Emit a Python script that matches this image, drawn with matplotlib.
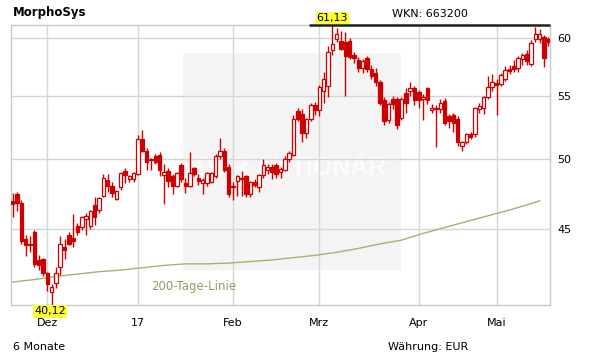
import matplotlib
matplotlib.use('AGG')
import matplotlib.pyplot as plt
from matplotlib.ticker import FixedLocator, NullLocator
import numpy as np

# trading days, Nov 2016 - May 2017 (index 0 = first candle)
opens = [46.9, 47.4, 46.8, 44.3, 44.0, 44.8, 42.9, 43.0, 42.1, 40.9,
         41.5, 42.5, 43.8, 44.6, 44.4, 45.2, 45.1, 45.7, 45.2, 46.6,
         46.3, 47.3, 48.4, 48.0, 47.1, 47.9, 49.1, 48.5, 48.5, 48.9,
         51.5, 50.6, 50.0, 50.2, 50.3, 48.8, 49.1, 48.7, 48.0, 49.5,
         48.2, 48.0, 49.3, 48.6, 48.2, 48.2, 48.3, 48.7, 50.2, 50.6,
         49.4, 48.0, 48.4, 48.6, 48.7, 47.4, 48.3, 47.9, 48.8, 49.2,
         49.4, 49.5, 49.0, 49.2, 50.0, 50.3, 53.7, 53.5, 52.0, 53.1,
         54.2, 53.8, 55.4, 55.8, 58.9, 59.9, 59.7, 59.6, 59.7, 58.4,
         58.0, 57.3, 58.2, 57.2, 56.9, 56.1, 54.6, 53.0, 54.7, 54.7,
         53.2, 55.2, 55.4, 55.6, 55.3, 54.7, 55.6, 53.8, 54.0, 53.9,
         54.5, 53.3, 53.4, 53.1, 51.0, 51.3, 51.9, 51.9, 53.9, 54.0,
         54.9, 55.7, 56.0, 56.0, 56.4, 57.2, 57.5, 57.3, 58.1, 58.5,
         57.7, 59.9, 59.9, 60.0, 59.9]
highs = [47.5, 47.6, 47.0, 44.6, 44.5, 44.9, 43.3, 43.1, 42.2, 41.4,
         42.5, 44.5, 44.3, 44.8, 46.0, 45.4, 45.9, 46.1, 46.3, 47.2,
         47.2, 48.9, 48.9, 48.3, 47.7, 49.0, 49.3, 48.8, 49.0, 51.8,
         52.2, 50.8, 50.1, 50.4, 50.5, 49.6, 49.3, 48.9, 49.0, 49.7,
         48.6, 50.5, 49.4, 48.9, 48.6, 49.0, 49.0, 50.4, 51.6, 50.8,
         49.6, 48.3, 48.8, 49.1, 48.8, 48.4, 48.5, 48.9, 50.0, 49.6,
         49.6, 49.7, 49.4, 50.2, 50.6, 53.4, 54.0, 53.9, 53.2, 54.4,
         54.5, 55.9, 57.0, 59.3, 61.13, 60.9, 60.6, 60.5, 60.0, 58.7,
         58.3, 58.1, 58.4, 57.6, 57.3, 56.3, 54.9, 54.5, 55.0, 54.9,
         54.9, 55.6, 56.1, 55.8, 55.5, 55.1, 55.7, 54.3, 54.2, 54.7,
         54.8, 53.5, 53.6, 53.3, 51.4, 52.0, 52.1, 54.1, 54.4, 55.0,
         56.6, 56.8, 56.4, 56.9, 57.5, 57.6, 58.0, 58.4, 58.6, 58.9,
         59.8, 61.0, 60.8, 60.2, 60.1]
lows = [45.8, 46.2, 44.0, 43.2, 43.5, 42.5, 42.3, 41.9, 41.0, 40.12,
        41.2, 42.0, 43.0, 43.9, 43.8, 44.6, 44.9, 44.6, 45.0, 45.3,
        46.1, 47.2, 47.6, 47.2, 47.0, 47.7, 48.2, 48.3, 48.3, 48.8,
        50.5, 49.2, 49.2, 49.6, 48.7, 46.7, 47.9, 47.4, 47.9, 48.3,
        47.5, 47.9, 48.7, 48.1, 47.4, 48.0, 48.2, 48.6, 50.0, 49.0,
        47.2, 47.0, 47.3, 47.3, 47.2, 47.2, 47.9, 47.6, 48.6, 48.9,
        48.5, 48.6, 48.6, 49.1, 49.8, 50.2, 52.9, 51.3, 51.6, 52.9,
        53.4, 53.3, 54.4, 54.9, 58.5, 59.6, 58.9, 55.0, 58.1, 57.8,
        57.0, 56.9, 57.0, 56.4, 55.8, 54.2, 52.6, 52.8, 53.9, 52.3,
        53.0, 53.6, 55.0, 54.2, 54.0, 53.0, 54.3, 53.6, 50.9, 53.6,
        52.6, 52.4, 52.1, 51.0, 50.6, 51.1, 51.5, 51.7, 53.6, 53.5,
        54.7, 55.4, 53.4, 55.8, 56.2, 56.8, 57.0, 57.0, 57.6, 57.6,
        57.5, 59.6, 59.5, 57.4, 59.3]
closes = [46.7, 46.8, 44.2, 43.9, 43.9, 42.7, 42.6, 42.1, 41.4, 41.2,
          42.1, 44.0, 43.6, 44.0, 44.2, 44.8, 45.8, 45.9, 46.2, 45.8,
          47.1, 48.6, 48.0, 47.5, 47.6, 48.9, 48.8, 48.7, 48.9, 51.5,
          50.6, 49.8, 49.9, 49.8, 49.2, 49.0, 48.4, 48.0, 48.9, 48.5,
          48.0, 48.9, 48.9, 48.4, 48.4, 48.9, 48.9, 50.2, 50.6, 49.2,
          47.4, 47.9, 48.7, 48.5, 47.4, 48.3, 48.1, 48.8, 49.5, 49.4,
          49.0, 48.9, 49.2, 50.0, 50.4, 53.1, 53.1, 52.0, 53.1, 54.2,
          53.8, 55.7, 56.4, 58.7, 59.4, 60.3, 59.0, 58.4, 58.3, 58.2,
          57.3, 57.9, 57.2, 56.6, 56.1, 54.4, 52.9, 54.3, 54.3, 52.6,
          54.7, 54.4, 55.6, 54.6, 54.6, 54.9, 54.6, 54.0, 53.9, 54.4,
          52.8, 52.9, 52.8, 51.3, 51.3, 51.9, 51.7, 54.0, 54.1, 54.9,
          55.7, 56.1, 55.9, 56.7, 57.1, 57.1, 57.2, 58.2, 58.4, 57.9,
          59.5, 60.3, 60.3, 58.2, 59.6]

# 200-day line, read every 5 trading days
ma_idx = [0, 5, 10, 15, 20, 25, 30, 35, 40, 45, 50, 55, 60, 65, 70,
          75, 80, 85, 90, 95, 100, 105, 110, 115, 120, 122]
ma_200 = [41.55, 41.7, 41.9, 42.05, 42.2, 42.3, 42.45, 42.6, 42.7, 42.7,
          42.75, 42.85, 42.95, 43.1, 43.25, 43.45, 43.7, 44.0, 44.25, 44.7,
          45.1, 45.5, 45.9, 46.3, 46.75, 46.95]

month_pos = [8, 29, 51, 71, 94, 112]
month_labels = ['Dez', '17', 'Feb', 'Mrz', 'Apr', 'Mai']
price_ticks = [45, 50, 55, 60]

red = '#cc0000'
grid_col = '#d6d6d6'

fig = plt.figure(figsize=(6.11, 3.64), dpi=100)
ax = fig.add_axes([0.0175, 0.1613, 0.8832, 0.7692])

o = np.array(opens)
c = np.array(closes)
h = np.array(highs)
l = np.array(lows)
x = np.arange(len(o))
up = c >= o

ax.set_yscale('log')
ax.set_xlim(-0.46, 124.45)
ax.set_ylim(40.12, 61.13)

# watermark
ax.add_patch(plt.Rectangle((0.319, 0.126), 0.404, 0.776, transform=ax.transAxes,
                           facecolor='#f4f4f4', edgecolor='none', zorder=0))
ax.text(0.52, 0.49, 'DER AKTIONÄR', transform=ax.transAxes, ha='center', va='center',
        fontsize=18, fontweight='bold', family='Liberation Sans', color='white',
        alpha=0.75, zorder=0.5)

ax.grid(True, color=grid_col, linewidth=1, zorder=1)
ax.set_axisbelow(True)

ax.plot(ma_idx, ma_200, color='#a3b36b', linewidth=1, zorder=2)
ax.text(0.2594, 0.0664, '200-Tage-Linie', transform=ax.transAxes, color='#8f9c5e',
        fontsize=8.5, va='center', ha='left')

ax.vlines(x, l, h, color=red, linewidth=1, zorder=3)
ax.bar(x, np.abs(c - o) + 0.02, bottom=np.minimum(o, c), width=0.8,
       color=np.where(up, 'white', red), edgecolor=red, linewidth=0.9, zorder=4)

# max / min markers
hi_i = int(np.argmax(h))
lo_i = int(np.argmin(l))
ax.hlines(h[hi_i], hi_i - 5.4, 124.45, color='#222222', linewidth=1.8, zorder=5, clip_on=False)
ax.annotate(f'{h[hi_i]:.2f}'.replace('.', ','), xy=(hi_i, h[hi_i]), xytext=(0, 5.3),
            textcoords='offset points', ha='center', va='center', fontsize=8,
            bbox=dict(boxstyle='square,pad=0.1', facecolor='#ffff33', edgecolor='none'),
            annotation_clip=False, zorder=6)
ax.annotate(f'{l[lo_i]:.2f}'.replace('.', ','), xy=(lo_i, l[lo_i]), xytext=(-1, -4.4),
            textcoords='offset points', ha='center', va='center', fontsize=8,
            bbox=dict(boxstyle='square,pad=0.1', facecolor='#ffff33', edgecolor='none'),
            annotation_clip=False, zorder=6)

ax.xaxis.set_major_locator(FixedLocator(month_pos))
ax.set_xticklabels(month_labels)
ax.yaxis.set_major_locator(FixedLocator(price_ticks))
ax.yaxis.set_minor_locator(NullLocator())
ax.set_yticklabels([str(t) for t in price_ticks])
ax.yaxis.tick_right()
ax.tick_params(axis='both', length=0, labelsize=8)
ax.tick_params(axis='x', pad=9)
ax.tick_params(axis='y', pad=5)
for s in ax.spines.values():
    s.set_color('#c8c8c8')
    s.set_linewidth(1)

fig.text(0.0208, 0.9657, 'MorphoSys', fontsize=8.5, fontweight='bold', va='center', ha='left')
fig.text(0.703, 0.9615, 'WKN: 663200', fontsize=8, va='center', ha='center')
fig.text(0.0208, 0.0475, '6 Monate', fontsize=8, va='center', ha='left')
fig.text(0.635, 0.0475, 'Währung: EUR', fontsize=8, va='center', ha='left')

plt.savefig('out.png', dpi=100)
